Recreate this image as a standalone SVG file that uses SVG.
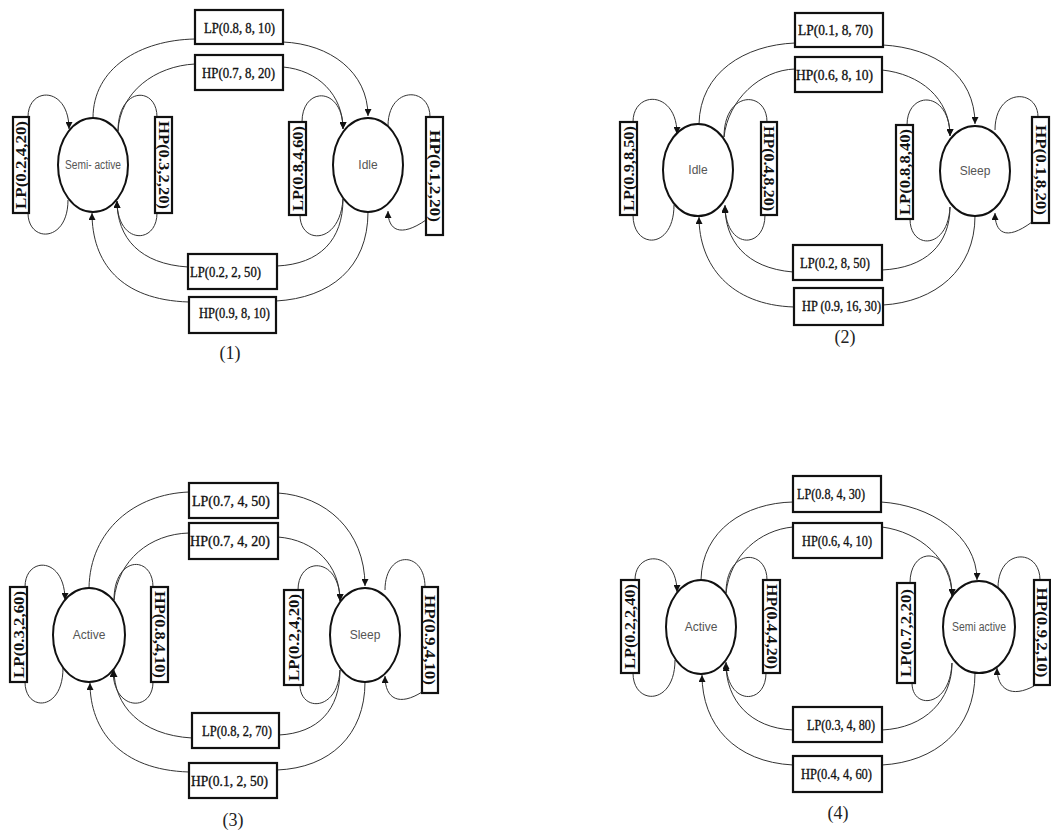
<svg xmlns="http://www.w3.org/2000/svg" width="1051" height="830" viewBox="0 0 1051 830">
<defs>
<marker id="arr" markerUnits="userSpaceOnUse" markerWidth="8" markerHeight="7" refX="7" refY="3.5" orient="auto">
<path d="M0,0 L7,3.5 L0,7 z" fill="#111"/>
</marker>
</defs>
<style>
.box{fill:#fff;stroke:#111;stroke-width:2.2}
.st{fill:#fff;stroke:#111;stroke-width:2}
.e{fill:none;stroke:#333;stroke-width:1}
.a{marker-end:url(#arr)}
.hl{font-family:"Liberation Serif",serif;font-size:15px;fill:#111;stroke:#111;stroke-width:0.35}
.vl{font-family:"Liberation Serif",serif;font-size:14px;font-weight:bold;fill:#111}
.nt{font-family:"Liberation Sans",sans-serif;font-size:12px;fill:#555}
.cap{font-family:"Liberation Serif",serif;font-size:18px;fill:#222}
</style>
<rect width="1051" height="830" fill="#fff"/>

<!-- ================= Diagram 1 ================= -->
<g id="connectors-1">
<path class="e" d="M 93,118 C 93,68 140,40 195,39"/>
<path class="e a" d="M 283,42 C 330,44 368,72 368,116"/>
<path class="e" d="M 118,131 C 120,92 155,66 195,64"/>
<path class="e a" d="M 283,67 C 318,70 343,95 343,129"/>
<path class="e a" d="M 28,117 C 28,86 69,86 69,129"/>
<path class="e" d="M 68,200 C 68,243 28,243 28,213"/>
<path class="e" d="M 118,131 C 118,86 157,86 157,117"/>
<path class="e a" d="M 157,213 C 157,245 117,245 117,201"/>
<path class="e a" d="M 302,122 C 302,86 343,86 343,129"/>
<path class="e" d="M 300,215 C 300,245 340,245 343,199"/>
<path class="e" d="M 388,126 C 388,86 430,86 430,117"/>
<path class="e a" d="M 426,220 C 400,238 388,230 388,211"/>
<path class="e a" d="M 188,267 C 140,264 117,238 117,201"/>
<path class="e" d="M 343,199 C 343,240 320,264 277,266"/>
<path class="e a" d="M 189,302 C 120,300 92,262 92,213"/>
<path class="e" d="M 368,212 C 368,268 330,298 276,301"/>
</g>
<g id="d1-semi-active"><ellipse class="st" cx="93" cy="165" rx="35" ry="47"/><text class="nt" x="93" y="169" text-anchor="middle" textLength="56" lengthAdjust="spacingAndGlyphs">Semi- active</text></g>
<g id="d1-idle"><ellipse class="st" cx="368" cy="165" rx="35" ry="47"/><text class="nt" x="368" y="169" text-anchor="middle">Idle</text></g>
<g id="d1-t1"><rect class="box" x="195" y="10" width="88" height="34"/><text class="hl" x="204" y="33" textLength="71" lengthAdjust="spacingAndGlyphs">LP(0.8, 8, 10)</text></g>
<g id="d1-t2"><rect class="box" x="195" y="55" width="88" height="35"/><text class="hl" x="202" y="78" textLength="73" lengthAdjust="spacingAndGlyphs">HP(0.7, 8, 20)</text></g>
<g id="d1-b1"><rect class="box" x="188" y="254" width="89" height="35"/><text class="hl" x="190" y="277" textLength="71" lengthAdjust="spacingAndGlyphs">LP(0.2, 2, 50)</text></g>
<g id="d1-b2"><rect class="box" x="189" y="297" width="87" height="36"/><text class="hl" x="199" y="318" textLength="71" lengthAdjust="spacingAndGlyphs">HP(0.9, 8, 10)</text></g>
<g id="d1-lo"><rect class="box" x="13" y="117" width="16" height="96"/><text class="vl" transform="translate(21,165) rotate(-90)" text-anchor="middle" dy="5" textLength="88" lengthAdjust="spacingAndGlyphs">LP(0.2,4,20)</text></g>
<g id="d1-li"><rect class="box" x="155" y="117" width="17" height="96"/><text class="vl" transform="translate(163.5,165) rotate(90)" text-anchor="middle" dy="5" textLength="88" lengthAdjust="spacingAndGlyphs">HP(0.3,2,20)</text></g>
<g id="d1-ri"><rect class="box" x="289" y="122" width="17" height="93"/><text class="vl" transform="translate(297.5,168.5) rotate(-90)" text-anchor="middle" dy="5" textLength="85" lengthAdjust="spacingAndGlyphs">LP(0.8,4,60)</text></g>
<g id="d1-ro"><rect class="box" x="426" y="117" width="17" height="118"/><text class="vl" transform="translate(434.5,176) rotate(90)" text-anchor="middle" dy="5" textLength="92" lengthAdjust="spacingAndGlyphs">HP(0.1,2,20)</text></g>
<text class="cap" x="230" y="359" text-anchor="middle">(1)</text>

<!-- ================= Diagram 2 ================= -->
<g id="connectors-2">
<path class="e" d="M 699,124 C 700,72 745,45 795,43"/>
<path class="e a" d="M 883,45 C 935,48 975,75 975,124"/>
<path class="e" d="M 724,137 C 728,100 760,70 795,69"/>
<path class="e a" d="M 882,70 C 920,74 950,98 950,136"/>
<path class="e a" d="M 633,122 C 633,90 677,90 677,134"/>
<path class="e" d="M 674,205 C 674,250 633,250 633,215"/>
<path class="e" d="M 724,137 C 724,90 767,90 767,122"/>
<path class="e a" d="M 765,215 C 765,250 725,250 725,205"/>
<path class="e a" d="M 907,125 C 907,90 950,90 950,136"/>
<path class="e" d="M 910,219 C 910,250 948,250 950,207"/>
<path class="e" d="M 995,130 C 995,88 1038,88 1038,117"/>
<path class="e a" d="M 1032,222 C 1005,242 995,232 995,213"/>
<path class="e a" d="M 793,272 C 745,268 725,240 725,206"/>
<path class="e" d="M 950,207 C 950,245 925,268 882,270"/>
<path class="e a" d="M 794,307 C 730,305 699,265 699,217"/>
<path class="e" d="M 975,216 C 975,270 935,302 883,305"/>
</g>
<g id="d2-idle"><ellipse class="st" cx="698" cy="170" rx="35" ry="46"/><text class="nt" x="698" y="174" text-anchor="middle">Idle</text></g>
<g id="d2-sleep"><ellipse class="st" cx="975" cy="171" rx="35" ry="45"/><text class="nt" x="975" y="175" text-anchor="middle">Sleep</text></g>
<g id="d2-t1"><rect class="box" x="795" y="13" width="88" height="34"/><text class="hl" x="798" y="35" textLength="75" lengthAdjust="spacingAndGlyphs">LP(0.1, 8, 70)</text></g>
<g id="d2-t2"><rect class="box" x="795" y="57" width="87" height="35"/><text class="hl" x="796" y="80" textLength="77" lengthAdjust="spacingAndGlyphs">HP(0.6, 8, 10)</text></g>
<g id="d2-b1"><rect class="box" x="793" y="245" width="89" height="35"/><text class="hl" x="800" y="268" textLength="70" lengthAdjust="spacingAndGlyphs">LP(0.2, 8, 50)</text></g>
<g id="d2-b2"><rect class="box" x="794" y="288" width="89" height="37"/><text class="hl" x="802" y="311" textLength="79" lengthAdjust="spacingAndGlyphs">HP (0.9, 16, 30)</text></g>
<g id="d2-lo"><rect class="box" x="620" y="122" width="17" height="93"/><text class="vl" transform="translate(628.5,168.5) rotate(-90)" text-anchor="middle" dy="5" textLength="85" lengthAdjust="spacingAndGlyphs">LP(0.9,8,50)</text></g>
<g id="d2-li"><rect class="box" x="761" y="122" width="16" height="93"/><text class="vl" transform="translate(769,168.5) rotate(90)" text-anchor="middle" dy="5" textLength="85" lengthAdjust="spacingAndGlyphs">HP(0.4,8,20)</text></g>
<g id="d2-ri"><rect class="box" x="896" y="125" width="17" height="94"/><text class="vl" transform="translate(904.5,172) rotate(-90)" text-anchor="middle" dy="5" textLength="86" lengthAdjust="spacingAndGlyphs">LP(0.8,8,40)</text></g>
<g id="d2-ro"><rect class="box" x="1032" y="117" width="17" height="106"/><text class="vl" transform="translate(1040.5,170) rotate(90)" text-anchor="middle" dy="5" textLength="90" lengthAdjust="spacingAndGlyphs">HP(0.1,8,20)</text></g>
<text class="cap" x="845" y="343" text-anchor="middle">(2)</text>

<!-- ================= Diagram 3 ================= -->
<g id="connectors-3">
<path class="e" d="M 89,588 C 90,530 135,494 189,492"/>
<path class="e a" d="M 278,493 C 325,496 365,530 365,586"/>
<path class="e" d="M 114,600 C 118,560 150,534 189,533"/>
<path class="e a" d="M 278,537 C 315,540 340,565 340,601"/>
<path class="e a" d="M 25,587 C 25,556 65,556 65,600"/>
<path class="e" d="M 25,682 C 25,712 63,712 63,668"/>
<path class="e" d="M 114,600 C 114,555 153,555 153,587"/>
<path class="e a" d="M 153,682 C 153,712 113,712 113,670"/>
<path class="e a" d="M 298,590 C 298,556 340,556 340,601"/>
<path class="e" d="M 300,685 C 300,712 338,712 340,670"/>
<path class="e" d="M 385,590 C 385,550 425,550 425,587"/>
<path class="e a" d="M 422,692 C 400,706 385,700 385,676"/>
<path class="e a" d="M 192,738 C 140,735 114,705 114,670"/>
<path class="e" d="M 340,670 C 340,710 318,733 279,735"/>
<path class="e a" d="M 189,772 C 120,770 90,730 90,683"/>
<path class="e" d="M 365,682 C 365,735 330,768 277,770"/>
</g>
<g id="d3-active"><ellipse class="st" cx="89" cy="635" rx="36" ry="47"/><text class="nt" x="89" y="639" text-anchor="middle">Active</text></g>
<g id="d3-sleep"><ellipse class="st" cx="365" cy="635" rx="35" ry="47"/><text class="nt" x="365" y="639" text-anchor="middle">Sleep</text></g>
<g id="d3-t1"><rect class="box" x="189" y="483" width="89" height="35"/><text class="hl" x="192" y="506" textLength="78" lengthAdjust="spacingAndGlyphs">LP(0.7, 4, 50)</text></g>
<g id="d3-t2"><rect class="box" x="189" y="523" width="89" height="36"/><text class="hl" x="190" y="546" textLength="80" lengthAdjust="spacingAndGlyphs">HP(0.7, 4, 20)</text></g>
<g id="d3-b1"><rect class="box" x="192" y="713" width="87" height="35"/><text class="hl" x="202" y="736" textLength="70" lengthAdjust="spacingAndGlyphs">LP(0.8, 2, 70)</text></g>
<g id="d3-b2"><rect class="box" x="189" y="763" width="88" height="35"/><text class="hl" x="191" y="786" textLength="77" lengthAdjust="spacingAndGlyphs">HP(0.1, 2, 50)</text></g>
<g id="d3-lo"><rect class="box" x="10" y="587" width="17" height="95"/><text class="vl" transform="translate(18.5,634.5) rotate(-90)" text-anchor="middle" dy="5" textLength="87" lengthAdjust="spacingAndGlyphs">LP(0.3,2,60)</text></g>
<g id="d3-li"><rect class="box" x="151" y="587" width="17" height="95"/><text class="vl" transform="translate(159.5,634.5) rotate(90)" text-anchor="middle" dy="5" textLength="87" lengthAdjust="spacingAndGlyphs">HP(0.8,4,10)</text></g>
<g id="d3-ri"><rect class="box" x="284" y="590" width="19" height="95"/><text class="vl" transform="translate(293.5,637.5) rotate(-90)" text-anchor="middle" dy="5" textLength="87" lengthAdjust="spacingAndGlyphs">LP(0.2,4,20)</text></g>
<g id="d3-ro"><rect class="box" x="422" y="587" width="16" height="106"/><text class="vl" transform="translate(430,640) rotate(90)" text-anchor="middle" dy="5" textLength="90" lengthAdjust="spacingAndGlyphs">HP(0.9,4,10)</text></g>
<text class="cap" x="233" y="826" text-anchor="middle">(3)</text>

<!-- ================= Diagram 4 ================= -->
<g id="connectors-4">
<path class="e" d="M 701,580 C 702,530 745,503 793,502"/>
<path class="e a" d="M 881,502 C 930,505 977,535 977,580"/>
<path class="e" d="M 726,593 C 730,555 760,530 793,527"/>
<path class="e a" d="M 882,527 C 920,532 952,560 952,596"/>
<path class="e a" d="M 635,580 C 635,550 677,550 677,592"/>
<path class="e" d="M 633,673 C 633,706 675,706 675,660"/>
<path class="e" d="M 726,593 C 726,548 767,548 767,580"/>
<path class="e a" d="M 766,673 C 766,706 726,706 726,662"/>
<path class="e a" d="M 910,583 C 910,545 952,545 952,596"/>
<path class="e" d="M 912,683 C 912,710 950,708 952,663"/>
<path class="e" d="M 998,588 C 998,548 1040,548 1040,580"/>
<path class="e a" d="M 1034,686 C 1012,698 997,690 997,668"/>
<path class="e a" d="M 793,730 C 750,728 726,700 726,664"/>
<path class="e" d="M 952,663 C 952,700 925,728 882,730"/>
<path class="e a" d="M 793,765 C 735,762 702,725 702,675"/>
<path class="e" d="M 975,673 C 975,730 935,762 882,765"/>
</g>
<g id="d4-active"><ellipse class="st" cx="701" cy="627" rx="35" ry="47"/><text class="nt" x="701" y="631" text-anchor="middle">Active</text></g>
<g id="d4-semi-active"><ellipse class="st" cx="979" cy="627" rx="36" ry="46"/><text class="nt" x="979" y="631" text-anchor="middle" textLength="54" lengthAdjust="spacingAndGlyphs">Semi active</text></g>
<g id="d4-t1"><rect class="box" x="793" y="476" width="88" height="36"/><text class="hl" x="797" y="499" textLength="68" lengthAdjust="spacingAndGlyphs">LP(0.8, 4, 30)</text></g>
<g id="d4-t2"><rect class="box" x="793" y="523" width="89" height="35"/><text class="hl" x="802" y="546" textLength="70" lengthAdjust="spacingAndGlyphs">HP(0.6, 4, 10)</text></g>
<g id="d4-b1"><rect class="box" x="793" y="707" width="89" height="35"/><text class="hl" x="807" y="730" textLength="68" lengthAdjust="spacingAndGlyphs">LP(0.3, 4, 80)</text></g>
<g id="d4-b2"><rect class="box" x="793" y="756" width="89" height="36"/><text class="hl" x="801" y="779" textLength="71" lengthAdjust="spacingAndGlyphs">HP(0.4, 4, 60)</text></g>
<g id="d4-lo"><rect class="box" x="621" y="580" width="18" height="93"/><text class="vl" transform="translate(630,626.5) rotate(-90)" text-anchor="middle" dy="5" textLength="85" lengthAdjust="spacingAndGlyphs">LP(0.2,2,40)</text></g>
<g id="d4-li"><rect class="box" x="763" y="580" width="17" height="93"/><text class="vl" transform="translate(771.5,626.5) rotate(90)" text-anchor="middle" dy="5" textLength="85" lengthAdjust="spacingAndGlyphs">HP(0.4,4,20)</text></g>
<g id="d4-ri"><rect class="box" x="897" y="583" width="18" height="100"/><text class="vl" transform="translate(906,633) rotate(-90)" text-anchor="middle" dy="5" textLength="88" lengthAdjust="spacingAndGlyphs">LP(0.7,2,20)</text></g>
<g id="d4-ro"><rect class="box" x="1034" y="580" width="16" height="105"/><text class="vl" transform="translate(1042,632.5) rotate(90)" text-anchor="middle" dy="5" textLength="90" lengthAdjust="spacingAndGlyphs">HP(0.9,2,10)</text></g>
<text class="cap" x="838" y="819" text-anchor="middle">(4)</text>
</svg>
